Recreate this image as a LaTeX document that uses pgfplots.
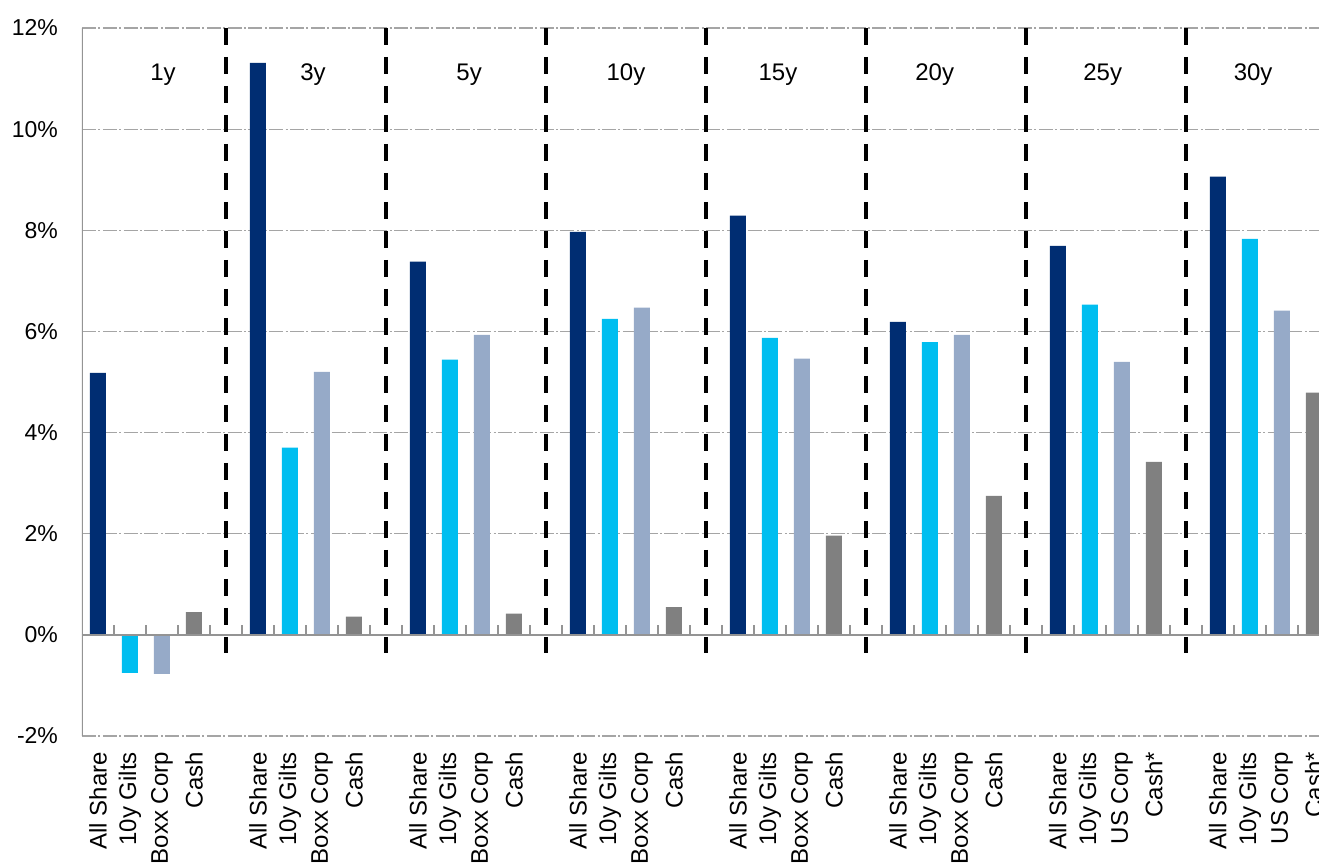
\documentclass[border=0pt]{standalone}
\usepackage{pgfplots}
\pgfplotsset{compat=1.18}
\usepackage{fontspec}
\setmainfont{Liberation Sans}

\definecolor{navy}{RGB}{0,45,114}
\definecolor{cyanb}{RGB}{0,190,240}
\definecolor{steel}{RGB}{150,170,200}
\definecolor{grayb}{RGB}{128,128,128}
\definecolor{gridc}{RGB}{165,165,165}

\begin{document}
\begin{tikzpicture}
  \begin{axis}[%
    name=ax,
    scale only axis,
    width=618.5pt, height=354pt,
    % x-axis
    xmin=-0.5, xmax=38.16,
    xtick={0,1,2,3,5,6,7,8,10,11,12,13,15,16,17,18,20,21,22,23,25,26,27,28,30,31,32,33,35,36,37,38},
    xticklabels={All Share,10y Gilts,Boxx Corp,Cash,
                 All Share,10y Gilts,Boxx Corp,Cash,
                 All Share,10y Gilts,Boxx Corp,Cash,
                 All Share,10y Gilts,Boxx Corp,Cash,
                 All Share,10y Gilts,Boxx Corp,Cash,
                 All Share,10y Gilts,Boxx Corp,Cash,
                 All Share,10y Gilts,US Corp,Cash*,
                 All Share,10y Gilts,US Corp,Cash*},
    xticklabel style={rotate=90, anchor=east, font=\fontsize{12}{14}\selectfont},
    xticklabel shift=4.5pt,
    % y-axis
    ymin=-2, ymax=12,
    ytick={-2,0,...,12},
    yticklabel={\pgfmathprintnumber{\tick}\%},
    yticklabel style={font=\fontsize{11.5}{14}\selectfont},
    yticklabel shift=8.5pt,
    /pgf/number format/assume math mode=true,
    major tick length=0pt,
    axis line style={draw=none},
    ymajorgrids=true,
    grid style={gridc, line width=0.6pt, dash pattern=on 7pt off 1.2pt on 1pt off 1.2pt},
    clip=true,
    ]

    \tikzstyle{bars}=[ybar, bar width=0.5, bar shift=0pt, draw=none]

    % All Share
    \addplot [bars, fill=navy] coordinates {
      (0,5.18) (5,11.31) (10,7.38) (15,7.97) (20,8.29) (25,6.19) (30,7.69) (35,9.06)
    };
    % 10y Gilts
    \addplot [bars, fill=cyanb] coordinates {
      (1,-0.75) (6,3.70) (11,5.44) (16,6.25) (21,5.87) (26,5.79) (31,6.53) (36,7.83)
    };
    % Boxx Corp / US Corp
    \addplot [bars, fill=steel] coordinates {
      (2,-0.77) (7,5.20) (12,5.93) (17,6.47) (22,5.46) (27,5.93) (32,5.40) (37,6.41)
    };
    % Cash / Cash*
    \addplot [bars, fill=grayb] coordinates {
      (3,0.45) (8,0.36) (13,0.42) (18,0.55) (23,1.96) (28,2.75) (33,3.42) (38,4.79)
    };

    % axis lines
    \draw[gridc!90!black, line width=0.8pt] (axis cs:-0.5,-2) -- (axis cs:-0.5,12);
    \draw[gridc!90!black, line width=0.8pt] (axis cs:-0.5,0) -- (axis cs:38.16,0);
    \pgfplotsinvokeforeach{0.5,1.5,...,37.5}{
      \draw[gridc!90!black, line width=0.8pt] (axis cs:#1,0) -- ++(0pt,5pt);
    }

    % period separators
    \pgfplotsinvokeforeach{4,9,14,19,24,29,34}{
      \draw[black, line width=2pt, dash pattern=on 8.5pt off 6pt] (axis cs:#1,12) -- (axis cs:#1,-0.35);
    }

    % period labels
    \tikzstyle{grp}=[font=\fontsize{12}{14}\selectfont]
    \node[grp] at (axis cs:2.03,11.07) {1y};
    \node[grp] at (axis cs:6.72,11.07) {3y};
    \node[grp] at (axis cs:11.6,11.07) {5y};
    \node[grp] at (axis cs:16.5,11.07) {10y};
    \node[grp] at (axis cs:21.25,11.07) {15y};
    \node[grp] at (axis cs:26.15,11.07) {20y};
    \node[grp] at (axis cs:31.4,11.07) {25y};
    \node[grp] at (axis cs:36.1,11.07) {30y};
  \end{axis}
  \pgfresetboundingbox
  \path ([shift={(-41pt,-65pt)}]ax.south west) rectangle ([shift={(0pt,14pt)}]ax.north east);
\end{tikzpicture}
\end{document}
